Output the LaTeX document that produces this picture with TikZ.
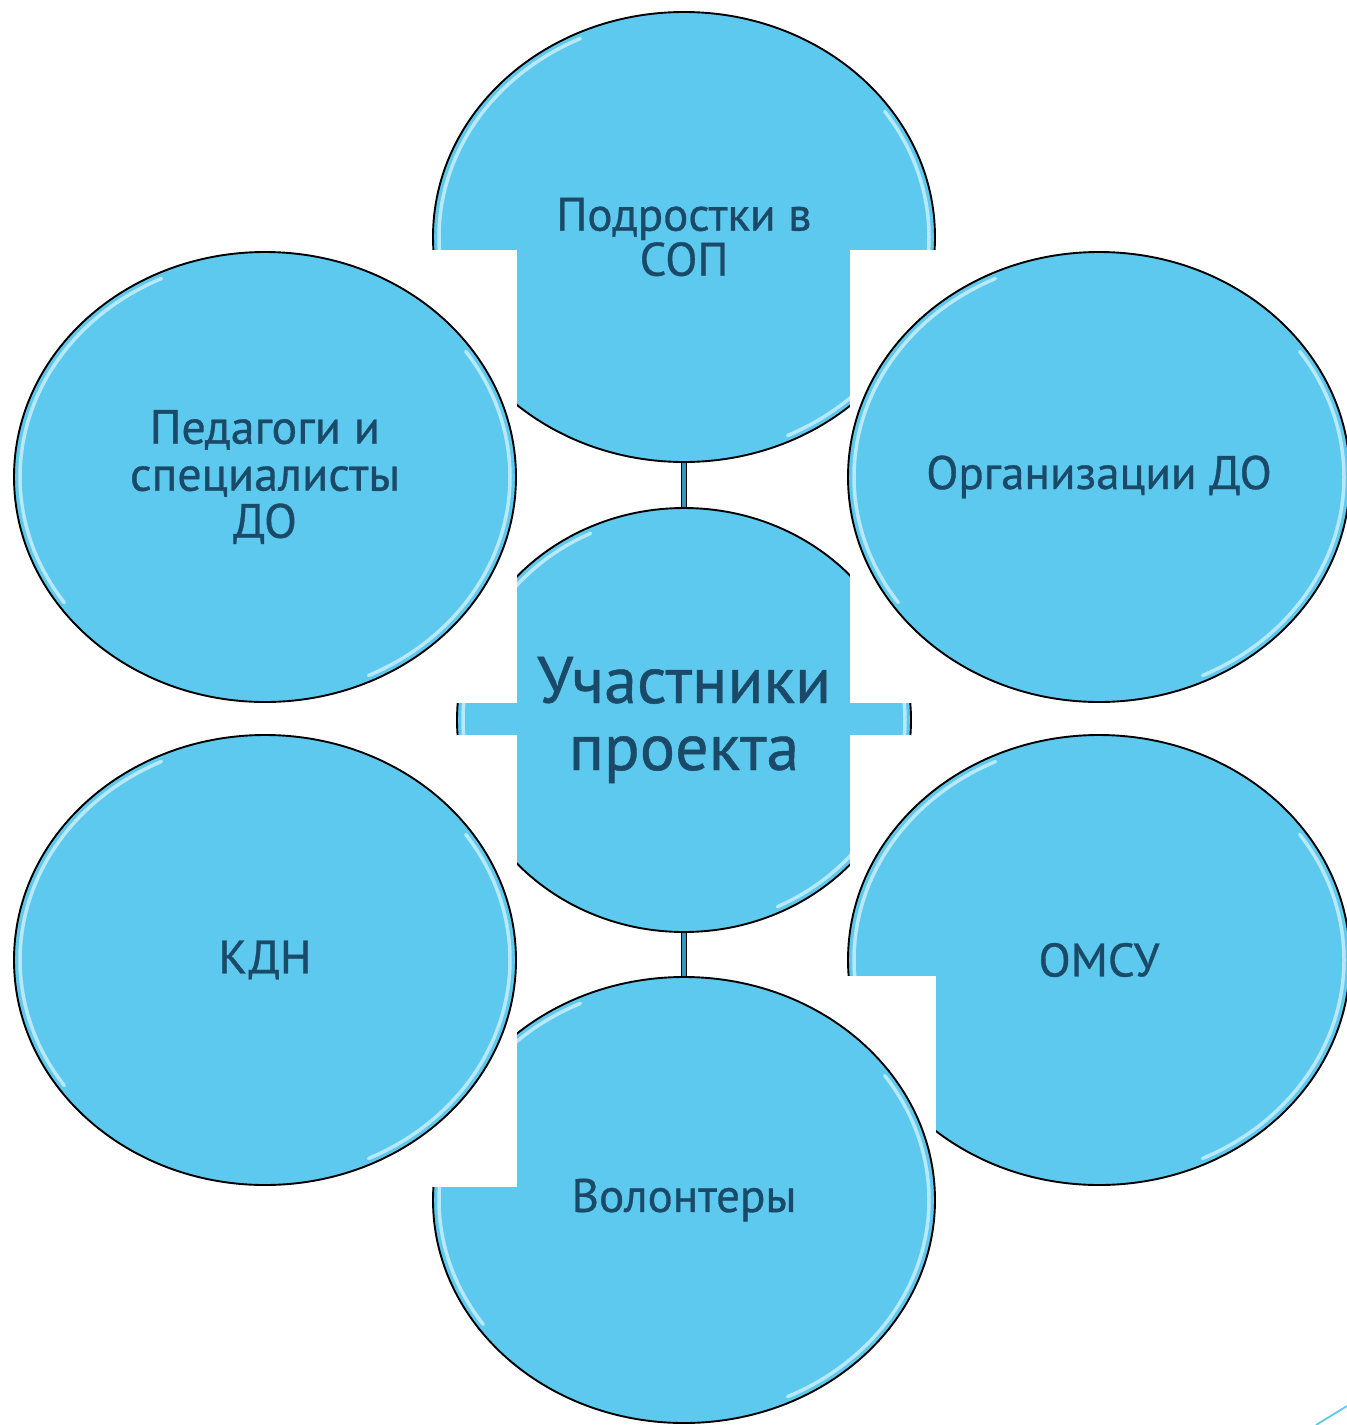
\documentclass[tikz,border=0pt]{standalone}
\usepackage{fontspec}
\setmainfont{PT Sans}[FakeBold=0.7]
\usetikzlibrary{shapes.geometric}
\definecolor{bubblefill}{HTML}{5EC9EE}
\definecolor{inkblue}{HTML}{1B4A68}
\definecolor{glowblue}{HTML}{B8E9FA}
\definecolor{linkblue}{HTML}{3597BD}
\tikzset{
  bubble/.style={ellipse, draw=black, line width=1.9pt, fill=bubblefill, text=inkblue,
    inner sep=0pt, align=center, font=\fontsize{47}{45}\selectfont},
  bigbubble/.style={bubble, minimum width=502pt, minimum height=450pt},
  tile/.style={fill=white, draw=none},
  linkout/.style={line width=6pt, draw=black},
  linkin/.style={line width=3.6pt, draw=linkblue},
  glowline/.style={draw=glowblue, line width=3.5pt, line cap=round},
}
\newcommand\glowarcs[3]{%
  \draw[glowline] (#1.center) ++(115:{#2} and {#3}) arc[start angle=115, end angle=215, x radius=#2, y radius=#3];
  \draw[glowline] (#1.center) ++(295:{#2} and {#3}) arc[start angle=295, end angle=395, x radius=#2, y radius=#3];
}
\begin{document}
\begin{tikzpicture}[x=1pt,y=1pt]
\useasboundingbox (0,-1425) rectangle (1347,0);
\fill[white] (0,-1425) rectangle (1347,0);

% top bubble
\fill[tile] (433,-12) rectangle (936,-462);
\node[bigbubble] (teen) at (684,-237) {Подростки в\\СОП};
\glowarcs{teen}{245}{219}

% centre bubble
\fill[tile] (457,-507) rectangle (911,-933);
\node[bubble, minimum width=454pt, minimum height=424pt,
      font=\fontsize{66}{67}\selectfont] (centre) at (684,-720) {Участники\\проекта};
\glowarcs{centre}{221}{206}

% right bottom bubble
\fill[tile] (850,-735) rectangle (1347,-1187);
\node[bigbubble] (omsu) at (1099,-960) {ОМСУ};
\glowarcs{omsu}{245}{219}

% bottom bubble
\fill[tile] (433,-976) rectangle (936,-1425);
\node[bigbubble, minimum height=446pt] (vol) at (684,-1200) {Волонтеры};
\glowarcs{vol}{245}{217}

% left bottom bubble
\fill[tile] (0,-735) rectangle (517,-1187);
\node[bigbubble] (kdn) at (265,-960) {КДН};
\glowarcs{kdn}{245}{219}

% left top bubble
\fill[tile] (0,-250) rectangle (517,-703);
\node[bigbubble, font=\fontsize{48}{47}\selectfont] (ped) at (265,-477) {Педагоги и\\специалисты\\ДО};
\glowarcs{ped}{245}{219}

% right top bubble
\fill[tile] (850,-250) rectangle (1347,-703);
\node[bigbubble] (org) at (1099,-477) {Организации ДО};
\glowarcs{org}{245}{219}

% connectors
\draw[linkout] (teen.south) -- (centre.north);
\draw[linkin] (teen.south) -- (centre.north);
\draw[linkout] (centre.south) -- (vol.north);
\draw[linkin] (centre.south) -- (vol.north);

% corner mark
\coordinate (cornerA) at (1316,-1425);
\coordinate (cornerB) at (1347,-1406);
\draw[bubblefill, line width=1.8pt] (cornerA) -- (cornerB);
\end{tikzpicture}
\end{document}
